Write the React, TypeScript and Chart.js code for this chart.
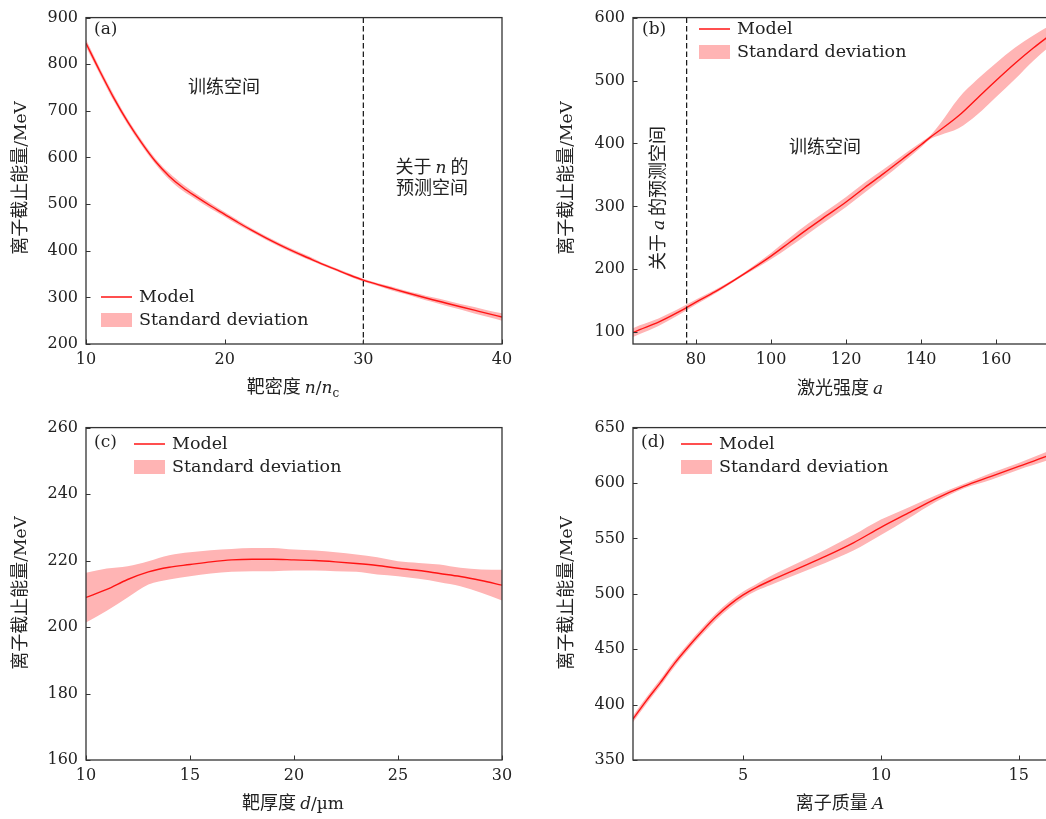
import { useEffect, useRef } from "react";
import { Chart, registerables } from "chart.js";

Chart.register(...registerables);

// (a) cut-off energy vs. target density n/nc
const densityX = [10, 11, 12, 13, 14, 15, 16, 17, 18, 19, 20, 21, 22, 23, 24, 25, 26, 27, 28, 29, 30, 31, 32, 33, 34, 35, 36, 37, 38, 39, 40];
const densityModel = [845, 785, 728, 677, 632, 592, 560, 535, 515, 496, 478, 460, 443, 427, 412, 398, 385, 372, 360, 348, 337, 328, 319.5, 311, 303, 295, 287.5, 280, 272.5, 265, 258];
const densityHigh = [853, 792, 735, 683, 638, 598, 567, 542, 521, 502, 483, 465, 447, 431, 416, 402, 389, 375, 363, 351, 340, 331, 323.5, 315, 308, 300, 293.5, 286, 279.5, 272, 266];
const densityLow = [837, 778, 721, 671, 626, 586, 553, 528, 509, 490, 473, 455, 439, 423, 408, 394, 381, 369, 357, 345, 334, 325, 315.5, 307, 298, 290, 281.5, 274, 265.5, 258, 250];
const densityXTicks = [10, 20, 30, 40];
const densityYTicks = [200, 300, 400, 500, 600, 700, 800, 900];

// (b) cut-off energy vs. laser intensity a
const intensityX = [63, 65, 70, 75, 80, 85, 90, 95, 100, 105, 110, 115, 120, 125, 130, 135, 140, 142.5, 145, 150, 155, 160, 165, 170, 175];
const intensityModel = [99, 104, 116, 131, 148, 164, 182, 201, 221, 243, 265, 286, 307, 330, 352, 375, 398, 410, 421, 444, 472, 500, 527, 552, 575];
const intensityHigh = [106, 111, 122, 136, 152, 167, 184, 204, 226, 250, 273, 294, 315, 338, 359, 381, 402, 413, 431, 472, 502, 528, 552, 572, 590];
const intensityLow = [92, 97, 110, 126, 144, 161, 180, 198, 216, 236, 257, 278, 299, 322, 345, 369, 394, 407, 413, 424, 446, 474, 502, 532, 558];
const intensityXTicks = [80, 100, 120, 140, 160];
const intensityYTicks = [100, 200, 300, 400, 500, 600];

// (c) cut-off energy vs. target thickness d
const thicknessX = [10, 11, 12, 13, 14, 15, 16, 17, 18, 19, 20, 21, 22, 23, 24, 25, 26, 27, 28, 29, 30];
const thicknessModel = [208.9, 211.3, 214.3, 216.6, 218.0, 218.8, 219.6, 220.2, 220.4, 220.4, 220.2, 220.0, 219.6, 219.1, 218.5, 217.7, 217.0, 216.1, 215.2, 214.0, 212.6];
const thicknessHigh = [216.3, 217.6, 218.3, 219.8, 221.6, 222.5, 223.1, 223.5, 223.8, 223.8, 223.3, 223.0, 222.5, 221.8, 221.0, 219.8, 219.3, 218.8, 217.8, 217.3, 217.2];
const thicknessLow = [201.4, 204.9, 208.9, 212.8, 214.3, 215.3, 216.1, 216.6, 216.8, 216.8, 217.0, 217.0, 216.8, 216.6, 215.8, 215.3, 214.5, 213.5, 212.3, 210.3, 208.0];
const thicknessXTicks = [10, 15, 20, 25, 30];
const thicknessYTicks = [160, 180, 200, 220, 240, 260];

// (d) cut-off energy vs. ion mass A
const massX = [1, 1.5, 2, 2.5, 3, 3.5, 4, 4.5, 5, 5.5, 6, 7, 8, 9, 10, 11, 12, 13, 14, 15, 16, 16.2];
const massModel = [387, 404, 420, 437, 452, 466, 479, 490, 499, 506, 512, 523, 534, 546, 560, 573, 586, 597, 606, 615, 624, 626];
const massHigh = [390, 407, 423, 440, 455, 469, 482, 493, 502, 509, 516, 528, 540, 553, 567, 578, 589, 599, 609, 618, 628, 630];
const massLow = [384, 401, 417, 434, 449, 463, 476, 487, 496, 503, 508, 518, 528, 539, 553, 568, 583, 595, 603, 612, 620, 622];
const massXTicks = [5, 10, 15];
const massYTicks = [350, 400, 450, 500, 550, 600, 650];

const SERIF = '"DejaVu Serif", "Liberation Serif", serif';
const CJK = '"Noto Sans CJK SC", "Noto Sans CJK JP", sans-serif';
const LINE_RED = "#ff1414";
const BAND_PINK = "#ffb4b4";
const INK = "#222222";
const FRAME = "#333333";

type Seg = { t: string; s?: "cjk" | "serif" | "italic" | "sub" };

function fontFor(s: Seg["s"]): string {
  switch (s) {
    case "cjk":
      return `18px ${CJK}`;
    case "italic":
      return `italic 17px ${SERIF}`;
    case "sub":
      return `12px ${SERIF}`;
    default:
      return `17px ${SERIF}`;
  }
}

// Draws mixed CJK / serif / italic text centred on (cx, cy), optionally rotated.
function drawRich(ctx: CanvasRenderingContext2D, segs: Seg[], cx: number, cy: number, rotate = 0) {
  ctx.save();
  ctx.translate(cx, cy);
  if (rotate) ctx.rotate(rotate);
  ctx.textBaseline = "alphabetic";
  ctx.textAlign = "left";
  ctx.fillStyle = INK;
  let total = 0;
  const widths = segs.map((g) => {
    ctx.font = fontFor(g.s);
    const w = ctx.measureText(g.t).width;
    total += w;
    return w;
  });
  let x = -total / 2;
  segs.forEach((g, i) => {
    ctx.font = fontFor(g.s);
    ctx.fillText(g.t, x, g.s === "sub" ? 10 : 6);
    x += widths[i];
  });
  ctx.restore();
}

type PanelCfg = {
  left: number;
  top: number;
  width: number;
  height: number;
  pad: { top: number; right: number };
  yAxisWidth: number;
  xAxisHeight: number;
  xs: number[];
  model: number[];
  high: number[];
  low: number[];
  xMin: number;
  xMax: number;
  yMin: number;
  yMax: number;
  xTicks: number[];
  yTicks: number[];
  tag: string;
  tagPos: [number, number];
  legendPos: [number, number];
  xTitle: Seg[];
  xTitlePos: [number, number];
  yTitlePos: [number, number];
  dashedAt?: number;
  notes?: { segs: Seg[]; x: number; y: number; rotate?: number }[];
};

const yTitle: Seg[] = [{ t: "离子截止能量", s: "cjk" }, { t: "/MeV" }];

const panels: PanelCfg[] = [
  {
    left: 0, top: 0, width: 520, height: 410,
    pad: { top: 12, right: 18 }, yAxisWidth: 86, xAxisHeight: 66,
    xs: densityX, model: densityModel, high: densityHigh, low: densityLow,
    xMin: 10, xMax: 40, yMin: 200, yMax: 900,
    xTicks: densityXTicks, yTicks: densityYTicks,
    tag: "(a)", tagPos: [94, 30], legendPos: [101, 297],
    xTitle: [{ t: "靶密度 ", s: "cjk" }, { t: "n", s: "italic" }, { t: "/" }, { t: "n", s: "italic" }, { t: "c", s: "sub" }],
    xTitlePos: [293, 387], yTitlePos: [20, 178],
    dashedAt: 30,
    notes: [
      { segs: [{ t: "训练空间", s: "cjk" }], x: 224, y: 87 },
      { segs: [{ t: "关于 ", s: "cjk" }, { t: "n", s: "italic" }, { t: " 的", s: "cjk" }], x: 432, y: 167 },
      { segs: [{ t: "预测空间", s: "cjk" }], x: 432, y: 188 },
    ],
  },
  {
    left: 520, top: 0, width: 540, height: 410,
    pad: { top: 12, right: 11 }, yAxisWidth: 113, xAxisHeight: 66,
    xs: intensityX, model: intensityModel, high: intensityHigh, low: intensityLow,
    xMin: 63.2, xMax: 174.1, yMin: 81.3, yMax: 600,
    xTicks: intensityXTicks, yTicks: intensityYTicks,
    tag: "(b)", tagPos: [122, 30], legendPos: [179, 29],
    xTitle: [{ t: "激光强度 ", s: "cjk" }, { t: "a", s: "italic" }],
    xTitlePos: [320, 388], yTitlePos: [46, 178],
    dashedAt: 77.5,
    notes: [
      { segs: [{ t: "训练空间", s: "cjk" }], x: 305, y: 147 },
      {
        segs: [{ t: "关于 ", s: "cjk" }, { t: "a", s: "italic" }, { t: " 的预测空间", s: "cjk" }],
        x: 138, y: 198, rotate: -Math.PI / 2,
      },
    ],
  },
  {
    left: 0, top: 410, width: 520, height: 409,
    pad: { top: 16, right: 18 }, yAxisWidth: 86, xAxisHeight: 59,
    xs: thicknessX, model: thicknessModel, high: thicknessHigh, low: thicknessLow,
    xMin: 10, xMax: 30, yMin: 160, yMax: 260,
    xTicks: thicknessXTicks, yTicks: thicknessYTicks,
    tag: "(c)", tagPos: [94, 33], legendPos: [134, 34],
    xTitle: [{ t: "靶厚度 ", s: "cjk" }, { t: "d", s: "italic" }, { t: "/µm" }],
    xTitlePos: [293, 393], yTitlePos: [20, 183],
    notes: [],
  },
  {
    left: 520, top: 410, width: 540, height: 409,
    pad: { top: 16, right: 11 }, yAxisWidth: 113, xAxisHeight: 59,
    xs: massX, model: massModel, high: massHigh, low: massLow,
    xMin: 1, xMax: 16.1, yMin: 350, yMax: 650,
    xTicks: massXTicks, yTicks: massYTicks,
    tag: "(d)", tagPos: [121, 33], legendPos: [161, 34],
    xTitle: [{ t: "离子质量 ", s: "cjk" }, { t: "A", s: "italic" }],
    xTitlePos: [320, 393], yTitlePos: [46, 183],
    notes: [],
  },
];

function Panel({ cfg }: { cfg: PanelCfg }) {
  const ref = useRef<HTMLCanvasElement | null>(null);

  useEffect(() => {
    const canvas = ref.current;
    if (!canvas) return;

    const toPts = (ys: number[]) => cfg.xs.map((x, i) => ({ x, y: ys[i] }));

    const decor = {
      id: "decor",
      afterDatasetsDraw(chart: Chart) {
        if (cfg.dashedAt === undefined) return;
        const { ctx, chartArea } = chart;
        const px = chart.scales.x.getPixelForValue(cfg.dashedAt);
        ctx.save();
        ctx.strokeStyle = "#111";
        ctx.lineWidth = 1.2;
        ctx.setLineDash([5.5, 3]);
        ctx.beginPath();
        ctx.moveTo(px, chartArea.top);
        ctx.lineTo(px, chartArea.bottom);
        ctx.stroke();
        ctx.restore();
      },
      afterDraw(chart: Chart) {
        const { ctx, chartArea } = chart;
        const { left, right, top, bottom } = chartArea;
        const xs = chart.scales.x;
        const ys = chart.scales.y;
        ctx.save();

        // inward tick marks
        ctx.strokeStyle = FRAME;
        ctx.lineWidth = 1;
        ctx.beginPath();
        cfg.xTicks.forEach((v) => {
          const p = Math.round(xs.getPixelForValue(v)) + 0.5;
          ctx.moveTo(p, bottom);
          ctx.lineTo(p, bottom - 4.5);
        });
        cfg.yTicks.forEach((v) => {
          const p = Math.round(ys.getPixelForValue(v)) + 0.5;
          ctx.moveTo(left, p);
          ctx.lineTo(left + 4.5, p);
        });
        ctx.stroke();

        // frame
        ctx.lineWidth = 1.3;
        ctx.strokeRect(left, top, right - left, bottom - top);

        // panel tag
        ctx.fillStyle = INK;
        ctx.font = `17px ${SERIF}`;
        ctx.textBaseline = "middle";
        ctx.textAlign = "left";
        ctx.fillText(cfg.tag, cfg.tagPos[0], cfg.tagPos[1]);

        // legend
        const [lx, ly] = cfg.legendPos;
        ctx.strokeStyle = LINE_RED;
        ctx.lineWidth = 1.5;
        ctx.beginPath();
        ctx.moveTo(lx, ly);
        ctx.lineTo(lx + 31, ly);
        ctx.stroke();
        ctx.fillStyle = BAND_PINK;
        ctx.fillRect(lx, ly + 16, 31, 14);
        ctx.fillStyle = INK;
        ctx.font = `17.5px ${SERIF}`;
        ctx.fillText("Model", lx + 38, ly);
        ctx.fillText("Standard deviation", lx + 38, ly + 23);

        // notes, axis titles
        (cfg.notes || []).forEach((n) => drawRich(ctx, n.segs, n.x, n.y, n.rotate || 0));
        drawRich(ctx, cfg.xTitle, cfg.xTitlePos[0], cfg.xTitlePos[1]);
        drawRich(ctx, yTitle, cfg.yTitlePos[0], cfg.yTitlePos[1], -Math.PI / 2);
        ctx.restore();
      },
    };

    const chart = new Chart(canvas, {
      type: "line",
      data: {
        datasets: [
          {
            label: "Model",
            data: toPts(cfg.model),
            borderColor: LINE_RED,
            borderWidth: 1.4,
            pointRadius: 0,
            fill: false,
            cubicInterpolationMode: "monotone",
            order: 0,
          },
          {
            label: "Standard deviation",
            data: toPts(cfg.high),
            borderColor: "transparent",
            borderWidth: 0,
            backgroundColor: BAND_PINK,
            pointRadius: 0,
            fill: "+1",
            cubicInterpolationMode: "monotone",
            order: 1,
          },
          {
            label: "lower",
            data: toPts(cfg.low),
            borderColor: "transparent",
            borderWidth: 0,
            pointRadius: 0,
            fill: false,
            cubicInterpolationMode: "monotone",
            order: 2,
          },
        ],
      },
      options: {
        responsive: false,
        animation: false,
        devicePixelRatio: 1,
        layout: { padding: { top: cfg.pad.top, right: cfg.pad.right, left: 0, bottom: 0 } },
        plugins: {
          legend: { display: false },
          tooltip: { enabled: false },
        },
        scales: {
          x: {
            type: "linear",
            min: cfg.xMin,
            max: cfg.xMax,
            grid: { display: false, drawTicks: false },
            border: { display: false },
            ticks: { color: INK, font: { family: SERIF, size: 16 }, padding: 6, maxRotation: 0 },
            afterBuildTicks: (s: any) => {
              s.ticks = cfg.xTicks.map((v) => ({ value: v }));
            },
            afterFit: (s: any) => {
              s.height = cfg.xAxisHeight;
            },
          },
          y: {
            type: "linear",
            min: cfg.yMin,
            max: cfg.yMax,
            grid: { display: false, drawTicks: false },
            border: { display: false },
            ticks: { color: INK, font: { family: SERIF, size: 16 }, padding: 8 },
            afterBuildTicks: (s: any) => {
              s.ticks = cfg.yTicks.map((v) => ({ value: v }));
            },
            afterFit: (s: any) => {
              s.width = cfg.yAxisWidth;
            },
          },
        },
      } as any,
      plugins: [decor as any],
    });

    return () => chart.destroy();
  }, [cfg]);

  return (
    <canvas
      ref={ref}
      width={cfg.width}
      height={cfg.height}
      style={{ position: "absolute", left: cfg.left, top: cfg.top, width: cfg.width, height: cfg.height }}
    />
  );
}

export default function App() {
  return (
    <div
      style={{
        position: "fixed",
        left: 0,
        top: 0,
        width: 1046,
        height: 819,
        overflow: "hidden",
        background: "#ffffff",
      }}
    >
      {panels.map((p) => (
        <Panel key={p.tag} cfg={p} />
      ))}
    </div>
  );
}
